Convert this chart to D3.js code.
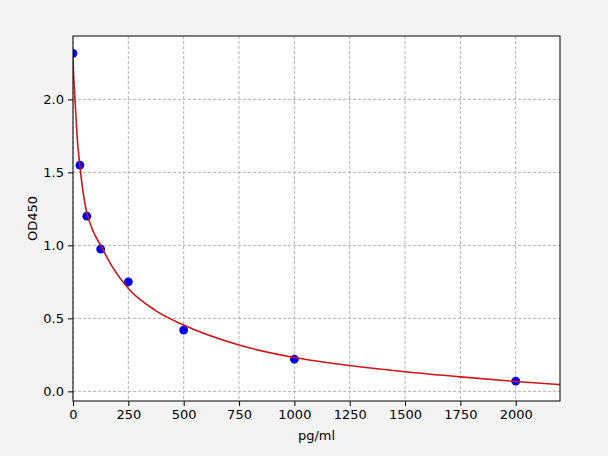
<!DOCTYPE html>
<html>
<head>
<meta charset="utf-8">
<script src="https://cdn.jsdelivr.net/npm/d3@7"></script>
<style>
  html, body { margin: 0; padding: 0; background: #f3f3f3; }
  svg { display: block; font-family: "DejaVu Sans", sans-serif; }
</style>
</head>
<body>
<div id="chart"></div>
<script>
// standards (concentration, OD)
const concentrations = [0, 31.25, 62.5, 125, 250, 500, 1000, 2000];
const odValues = [2.315, 1.55, 1.20, 0.975, 0.75, 0.42, 0.22, 0.07];

// fitted curve
const curveX = [0, 3, 9, 20, 30, 45, 60, 90, 125, 175, 250, 370, 500, 750, 1000, 1250, 1500, 1750, 2000, 2200];
const curveY = [2.28, 2.16, 2.0, 1.72, 1.56, 1.37, 1.24, 1.10, 1.0, 0.86, 0.705, 0.557, 0.454, 0.317, 0.232, 0.177, 0.134, 0.099, 0.068, 0.046];

const xTicks = [0, 250, 500, 750, 1000, 1250, 1500, 1750, 2000];
const yTicks = [0.0, 0.5, 1.0, 1.5, 2.0];

(function () {
  const w = 608;
  const h = 456;
  const margin = { top: 36, right: 48, bottom: 55, left: 73 };

  const svg = d3.select('#chart')
    .append('svg')
    .attr('width', w)
    .attr('height', h);

  svg.append('rect')
    .attr('width', w)
    .attr('height', h)
    .attr('fill', '#f3f3f3');

  const x = d3.scaleLinear()
    .domain([0, 2200])
    .range([margin.left, w - margin.right]);

  const y = d3.scaleLinear()
    .domain([-0.066, 2.434])
    .range([h - margin.bottom, margin.top]);

  svg.append('rect')
    .attr('x', margin.left)
    .attr('y', margin.top)
    .attr('width', x.range()[1] - margin.left)
    .attr('height', y.range()[0] - margin.top)
    .attr('fill', '#ffffff');

  svg.append('clipPath')
    .attr('id', 'plot-clip')
    .append('rect')
    .attr('x', margin.left)
    .attr('y', margin.top)
    .attr('width', x.range()[1] - margin.left)
    .attr('height', y.range()[0] - margin.top);

  // grid
  const grid = svg.append('g').attr('class', 'grid')
    .attr('stroke', '#aaaaaa')
    .attr('stroke-width', 0.9)
    .attr('stroke-dasharray', '3.2,1.8');

  grid.selectAll('line.vx').data(xTicks).enter()
    .append('line')
    .attr('x1', d => x(d)).attr('x2', d => x(d))
    .attr('y1', margin.top).attr('y2', y.range()[0]);

  grid.selectAll('line.hy').data(yTicks).enter()
    .append('line')
    .attr('y1', d => y(d)).attr('y2', d => y(d))
    .attr('x1', margin.left).attr('x2', x.range()[1]);

  const plot = svg.append('g').attr('clip-path', 'url(#plot-clip)');

  plot.selectAll('circle.pt')
    .data(concentrations.map((c, i) => [c, odValues[i]]))
    .enter()
    .append('circle')
    .attr('class', 'pt')
    .attr('cx', d => x(d[0]))
    .attr('cy', d => y(d[1]))
    .attr('r', 4.4)
    .attr('fill', '#0000ee');

  const line = d3.line()
    .x(d => x(d[0]))
    .y(d => y(d[1]))
    .curve(d3.curveMonotoneX);

  plot.append('path')
    .datum(curveX.map((c, i) => [c, curveY[i]]))
    .attr('d', line)
    .attr('fill', 'none')
    .attr('stroke', '#cc1616')
    .attr('stroke-width', 1.6);

  // axes
  const xAxis = svg.append('g')
    .attr('transform', `translate(0,${y.range()[0]})`)
    .call(d3.axisBottom(x).tickValues(xTicks).tickSize(5).tickPadding(4).tickFormat(d3.format('d')));

  const yAxis = svg.append('g')
    .attr('transform', `translate(${margin.left},0)`)
    .call(d3.axisLeft(y).tickValues(yTicks).tickSize(5).tickPadding(4).tickFormat(d3.format('.1f')));

  [xAxis, yAxis].forEach(g => {
    g.select('.domain').remove();
    g.selectAll('text')
      .attr('font-family', '"DejaVu Sans", sans-serif')
      .attr('font-size', 13)
      .attr('fill', '#000');
    g.selectAll('line').attr('stroke', '#000').attr('stroke-width', 1);
  });

  // frame
  svg.append('rect')
    .attr('x', margin.left)
    .attr('y', margin.top)
    .attr('width', x.range()[1] - margin.left)
    .attr('height', y.range()[0] - margin.top)
    .attr('fill', 'none')
    .attr('stroke', '#000')
    .attr('stroke-width', 1);

  svg.append('text')
    .attr('x', (margin.left + x.range()[1]) / 2)
    .attr('y', 440)
    .attr('text-anchor', 'middle')
    .attr('font-size', 13)
    .text('pg/ml');

  svg.append('text')
    .attr('transform', `translate(36.5,${(margin.top + y.range()[0]) / 2}) rotate(-90)`)
    .attr('text-anchor', 'middle')
    .attr('font-size', 13)
    .text('OD450');
})();
</script>
</body>
</html>
